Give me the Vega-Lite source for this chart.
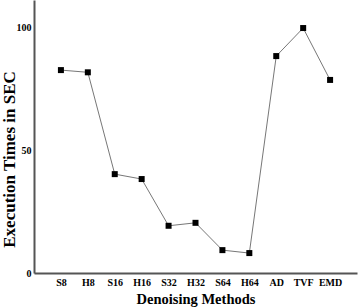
{
  "$schema": "https://vega.github.io/schema/vega-lite/v6.json",
  "width": 323,
  "height": 273,
  "autosize": {"type": "none"},
  "padding": {"left": 34, "top": 0, "right": 2, "bottom": 34},
  "background": "white",
  "config": {"view": {"stroke": null}, "font": "Liberation Serif"},
  "data": {"values": [
    {"method": "S8", "time": 82.5},
    {"method": "H8", "time": 81.6},
    {"method": "S16", "time": 40.2},
    {"method": "H16", "time": 38.2},
    {"method": "S32", "time": 19.2},
    {"method": "H32", "time": 20.4},
    {"method": "S64", "time": 9.3},
    {"method": "H64", "time": 8.1},
    {"method": "AD", "time": 88.2},
    {"method": "TVF", "time": 99.6},
    {"method": "EMD", "time": 78.5}
  ]},
  "encoding": {
    "x": {"field": "method", "type": "nominal", "sort": null,
      "scale": {"type": "point", "padding": 1},
      "axis": {"title": "Denoising Methods", "labelAngle": 0, "ticks": false, "grid": false,
        "domainColor": "#555555", "domainWidth": 2, "labelFont": "Liberation Serif", "labelFontWeight": "bold", "labelFontSize": 10, "labelColor": "#000000", "labelPadding": 4,
        "titleFont": "Liberation Serif", "titleFontWeight": "bold", "titleFontSize": 14.5, "titleColor": "#000000", "titlePadding": 5}},
    "y": {"field": "time", "type": "quantitative",
      "scale": {"domain": [0, 111], "nice": false},
      "axis": {"title": "Execution Times in SEC", "values": [0, 50, 100], "ticks": false, "grid": false,
        "domainColor": "#555555", "domainWidth": 2, "labelFont": "Liberation Serif", "labelFontWeight": "bold", "labelFontSize": 10, "labelColor": "#000000", "labelPadding": 3,
        "titleFont": "Liberation Serif", "titleFontWeight": "bold", "titleFontSize": 17, "titleColor": "#000000", "titleX": -25, "titleY": 159, "titleAlign": "center", "titleBaseline": "middle"}}
  },
  "layer": [
    {"mark": {"type": "line", "color": "#777777", "strokeWidth": 1}},
    {"mark": {"type": "point", "shape": "square", "filled": true, "color": "#000000", "size": 36, "opacity": 1}}
  ]
}
